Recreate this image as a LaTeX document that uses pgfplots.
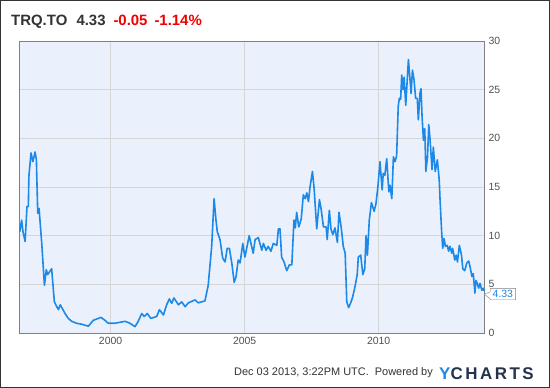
\documentclass[border=0pt]{standalone}
\usepackage{fontspec}
\setmainfont{Liberation Sans}
\usepackage{pgfplots}
\pgfplotsset{compat=1.18}
\usetikzlibrary{shapes.callouts}
\definecolor{linec}{RGB}{28,137,232}
\definecolor{bgc}{RGB}{234,240,252}
\definecolor{gridc}{RGB}{214,214,214}
\definecolor{axc}{RGB}{128,128,128}
\definecolor{tickc}{RGB}{80,80,80}
\definecolor{titc}{RGB}{51,51,51}
\definecolor{navy}{RGB}{38,50,74}
\definecolor{redc}{RGB}{240,0,0}
\pgfplotstableread{
x y
1996.61 10.4
1996.68 11.6
1996.73 10.4
1996.81 9.4
1996.88 13.0
1996.93 13.0
1996.95 16.1
1997.03 18.5
1997.10 17.6
1997.18 18.6
1997.23 17.8
1997.28 12.3
1997.33 12.8
1997.43 9.2
1997.53 4.9
1997.60 6.5
1997.65 6.0
1997.80 6.6
1997.90 3.2
1998.05 2.4
1998.12 2.9
1998.30 2.0
1998.42 1.5
1998.55 1.2
1998.73 1.0
1998.92 0.9
1999.17 0.7
1999.35 1.3
1999.64 1.6
1999.79 1.3
1999.91 1.0
2000.16 1.0
2000.54 1.2
2000.72 1.0
2000.91 0.65
2001.03 1.2
2001.16 2.0
2001.25 1.7
2001.37 2.0
2001.50 1.5
2001.72 1.7
2001.82 2.4
2001.97 1.85
2002.09 2.9
2002.19 3.5
2002.28 3.05
2002.36 3.6
2002.53 2.9
2002.65 3.2
2002.78 2.7
2002.90 3.1
2003.15 3.4
2003.27 3.1
2003.52 3.3
2003.64 4.9
2003.77 8.9
2003.86 13.8
2003.93 11.6
2003.98 10.4
2004.08 9.6
2004.18 7.7
2004.27 7.3
2004.35 8.7
2004.43 8.7
2004.52 7.2
2004.61 5.2
2004.68 5.8
2004.76 7.5
2004.83 7.2
2004.93 9.2
2005.01 7.8
2005.17 10.0
2005.26 8.9
2005.32 8.2
2005.39 9.6
2005.51 9.8
2005.64 8.5
2005.70 9.2
2005.80 8.5
2005.88 8.9
2005.98 8.4
2006.07 9.2
2006.20 9.0
2006.26 10.7
2006.32 10.7
2006.38 7.8
2006.47 7.3
2006.57 6.4
2006.67 7.0
2006.76 7.0
2006.84 11.6
2006.89 10.8
2006.94 12.4
2007.02 10.9
2007.11 11.7
2007.19 14.2
2007.26 13.8
2007.32 14.4
2007.38 13.5
2007.44 15.0
2007.53 16.6
2007.59 14.9
2007.69 10.7
2007.79 13.7
2007.85 12.8
2007.94 10.9
2008.04 10.9
2008.08 9.6
2008.16 12.6
2008.22 10.7
2008.29 10.1
2008.37 10.8
2008.46 9.3
2008.52 12.4
2008.60 10.9
2008.68 8.9
2008.75 8.2
2008.81 3.2
2008.88 2.6
2008.97 3.2
2009.03 3.7
2009.12 4.8
2009.20 6.0
2009.24 7.8
2009.33 8.0
2009.41 6.0
2009.48 6.6
2009.53 10.0
2009.58 8.0
2009.65 11.6
2009.73 13.4
2009.83 12.5
2009.90 13.3
2009.97 15.0
2010.05 17.6
2010.13 14.7
2010.17 16.4
2010.23 16.2
2010.30 17.9
2010.38 14.5
2010.42 15.2
2010.49 13.8
2010.55 18.1
2010.61 17.6
2010.67 18.2
2010.73 23.3
2010.77 24.1
2010.82 24.0
2010.86 26.5
2010.91 25.0
2010.95 26.3
2011.01 23.4
2011.11 28.1
2011.17 26.0
2011.21 24.6
2011.26 27.0
2011.32 26.0
2011.38 24.1
2011.44 24.1
2011.48 21.9
2011.54 24.6
2011.58 25.1
2011.62 22.2
2011.67 19.8
2011.72 21.0
2011.76 16.6
2011.82 18.0
2011.87 21.4
2011.92 19.8
2011.99 16.8
2012.04 19.1
2012.11 16.6
2012.19 17.8
2012.26 15.7
2012.29 13.7
2012.35 10.4
2012.39 8.7
2012.44 9.7
2012.49 8.9
2012.56 9.0
2012.61 8.4
2012.66 8.9
2012.73 8.2
2012.76 8.7
2012.84 7.5
2012.89 8.0
2012.94 7.3
2013.01 9.0
2013.09 8.0
2013.14 6.6
2013.21 6.4
2013.29 7.2
2013.36 7.4
2013.41 6.8
2013.48 5.8
2013.53 6.1
2013.59 4.1
2013.63 5.4
2013.68 5.1
2013.73 4.6
2013.78 5.1
2013.85 4.4
2013.91 4.6
2013.93 4.33
}\pricedata

\begin{document}
\begin{tikzpicture}
\useasboundingbox (0bp,0bp) rectangle (550bp,388bp);
\fill[white] (0bp,0bp) rectangle (550bp,388bp);
\draw[titc, line width=1bp] (0.5bp,0.5bp) rectangle (549.5bp,387.5bp);
\begin{axis}[
  at={(19.5bp,55bp)}, anchor=south west,
  scale only axis, width=464.5bp, height=292bp,
  xmin=1996.6, xmax=2013.93, ymin=0, ymax=30,
  axis background/.style={fill=bgc},
  axis line style={axc, line width=0.8bp},
  grid=major, major grid style={gridc, line width=0.8bp},
  xtick={2000,2005,2010}, ytick={0,5,10,15,20,25,30},
  yticklabel pos=right,
  major tick length=0pt,
  tick style={draw=none},
  ticklabel style={font=\fontsize{10.5}{12}\selectfont, text=tickc},
  /pgf/number format/assume math mode=true,
  xticklabel style={/pgf/number format/1000 sep={}, yshift=-1bp},
  yticklabel style={xshift=1bp},
  clip=false,
]
\addplot[linec, line width=1.6bp, line join=round, mark=none] table[x=x, y=y] {\pricedata};
\node[rectangle callout, draw=axc, fill=white, text=linec,
  font=\fontsize{10.5}{12}\selectfont, inner xsep=2.5bp, inner ysep=2bp,
  anchor=west, callout relative pointer={(-6bp,0bp)}]
  at (axis cs:2013.93,4.0) [xshift=6bp] {4.33};
\end{axis}
\node[anchor=base west, inner sep=0pt, font=\bfseries\fontsize{15}{17}\selectfont, text=titc] at (11bp,362bp) {TRQ.TO};
\node[anchor=base west, inner sep=0pt, font=\bfseries\fontsize{15}{17}\selectfont, text=titc] at (76.3bp,362bp) {4.33};
\node[anchor=base west, inner sep=0pt, font=\bfseries\fontsize{15}{17}\selectfont, text=redc] at (113.3bp,362bp) {-0.05};
\node[anchor=base west, inner sep=0pt, font=\bfseries\fontsize{15}{17}\selectfont, text=redc] at (154.3bp,362bp) {-1.14\%};
\node[anchor=base east, inner sep=0pt, font=\fontsize{11}{13}\selectfont, text=titc] at (433bp,13bp) {Dec 03 2013, 3:22PM UTC.\ \ Powered by};
\node[anchor=base west, inner sep=0pt, font=\bfseries\fontsize{17}{19}\selectfont\addfontfeature{LetterSpace=15}] at (439bp,9bp) {\textcolor{linec}{Y}\textcolor{navy}{CHARTS}};
\end{tikzpicture}
\end{document}
